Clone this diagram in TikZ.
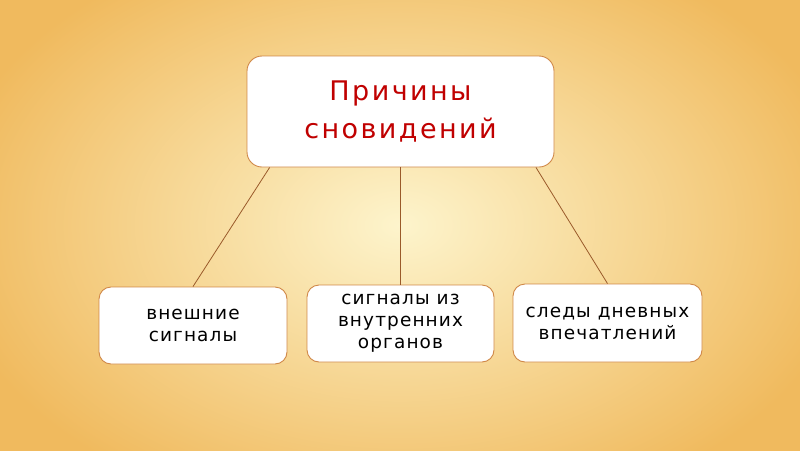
\documentclass[tikz,border=0pt]{standalone}
\usepackage{fontspec}
\setmainfont{DejaVu Sans}
\newfontfamily\topfont[LetterSpace=9]{DejaVu Sans}
\newfontfamily\subfont[LetterSpace=6]{DejaVu Sans}
\usetikzlibrary{calc}
\definecolor{bgin}{HTML}{FDF4CC}
\definecolor{bgout}{HTML}{F0BA5E}
\definecolor{edge}{HTML}{D08848}
\definecolor{linec}{HTML}{9A5A2A}
\definecolor{titlec}{HTML}{C00000}
\tikzset{
  topbox/.style={draw=edge, line width=0.9pt, fill=white, rounded corners=15pt, minimum width=307pt, minimum height=111pt, inner sep=0pt, align=center, text=titlec, font=\topfont\fontsize{27}{38}\selectfont},
  subbox/.style={draw=edge, line width=0.9pt, fill=white, rounded corners=12pt, minimum height=77pt, inner sep=0pt, align=center, text=black, font=\subfont\fontsize{18.5}{22}\selectfont},
  conn/.style={draw=linec, line width=0.8pt}
}
\begin{document}
\begin{tikzpicture}[x=1pt,y=-1pt]
\useasboundingbox (0,0) rectangle (800,450);
\shade[inner color=bgin, outer color=bgout] (-60,-80) rectangle (860,530);
\node[topbox] (top) at (400.5,111.5) {Причины\\сновидений};
\node[subbox, minimum width=188pt] (b1) at (193,325.5) {внешние\\сигналы};
\node[subbox, minimum width=187pt] (b2) at (400.5,323.5) {сигналы из\\внутренних\\органов};
\node[subbox, minimum width=189pt, minimum height=78pt] (b3) at (607.5,323) {следы дневных\\впечатлений};
\draw[conn] ($(top.south west)!0.075!(top.south east)$) -- (b1.north);
\draw[conn] (top.south) -- (b2.north);
\draw[conn] ($(top.south west)!0.94!(top.south east)$) -- (b3.north);
\end{tikzpicture}
\end{document}
